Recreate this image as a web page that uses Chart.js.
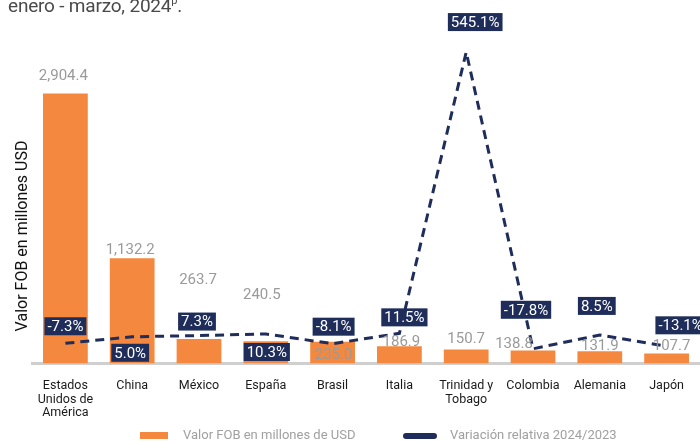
<!DOCTYPE html>
<html>
<head>
<meta charset="utf-8">
<script src="https://cdn.jsdelivr.net/npm/chart.js@4.4.1/dist/chart.umd.min.js"></script>
<style>
  html, body { margin: 0; padding: 0; background: #fff; overflow: hidden; }
  #wrap { position: relative; width: 700px; height: 441px; }
  #title { position: absolute; left: 8px; top: -6px; font: 19px Roboto, sans-serif; color: #4a4a4a; white-space: nowrap; letter-spacing: -0.2px; }
  #title sup { font-size: 11px; vertical-align: 8px; }
</style>
</head>
<body>
<div id="wrap">
  <canvas id="chart" width="700" height="441"></canvas>
  <div id="title">enero - marzo, 2024<sup>p</sup>.</div>
</div>
<script>
// ===== Data =====
const countries = [
  ['Estados', 'Unidos de', 'América'], 'China', 'México', 'España', 'Brasil',
  'Italia', ['Trinidad y', 'Tobago'], 'Colombia', 'Alemania', 'Japón'
];
const fobValues = [2904.4, 1132.2, 263.7, 240.5, 235.0, 186.9, 150.7, 138.8, 131.9, 107.7];
const variation = [-7.3, 5.0, 7.3, 10.3, -8.1, 11.5, 545.1, -17.8, 8.5, -13.1];

const ORANGE = '#F4883E';
const NAVY = '#1F2D5A';

// label nudges (px) to mimic the original layout
const barLabelOffset = [[-2,-17],[-2,-8],[-1,-59],[-4,-46],[1,14],[2,-4],[0,-10],[-19,-6],[0,-5],[5,-7]];
const lineLabelOffset = [[0,-17],[-2,16],[-2,-14],[1,18],[1,-17],[5,-16],[9,-30],[-7,-39],[-3,-29],[14,-21]];

function fmt(v) {
  return v.toLocaleString('en-US', { minimumFractionDigits: 1, maximumFractionDigits: 1 });
}

// ===== Labels plugin =====
const labelsPlugin = {
  id: 'labels',
  afterDatasetsDraw(chart) {
    const ctx = chart.ctx;
    ctx.save();
    // bar values
    const barMeta = chart.getDatasetMeta(0);
    ctx.font = '15px Roboto, sans-serif';
    ctx.fillStyle = '#9a9a9a';
    ctx.textAlign = 'center';
    ctx.textBaseline = 'middle';
    barMeta.data.forEach((bar, i) => {
      const [dx, dy] = barLabelOffset[i];
      ctx.fillText(fmt(fobValues[i]), bar.x + dx, bar.y + dy);
    });
    // variation boxes
    const lineMeta = chart.getDatasetMeta(1);
    ctx.font = '15px Roboto, sans-serif';
    lineMeta.data.forEach((pt, i) => {
      const [dx, dy] = lineLabelOffset[i];
      const txt = variation[i].toFixed(1) + '%';
      const w = ctx.measureText(txt).width + 6;
      const h = 18;
      const cx = pt.x + dx, cy = pt.y + dy;
      ctx.fillStyle = NAVY;
      ctx.fillRect(cx - w / 2, cy - h / 2, w, h);
      ctx.fillStyle = '#ffffff';
      ctx.fillText(txt, cx, cy + 1);
    });
    ctx.restore();
  },
  afterDraw(chart) {
    const ctx = chart.ctx;
    ctx.save();
    // y axis title
    ctx.translate(23, 236);
    ctx.rotate(-Math.PI / 2);
    ctx.font = '16px Roboto, sans-serif';
    ctx.fillStyle = '#111';
    ctx.textAlign = 'center';
    ctx.textBaseline = 'middle';
    ctx.fillText('Valor FOB en millones USD', 0, 0);
    ctx.restore();

    // legend
    ctx.save();
    const ds = chart.data.datasets;
    ctx.font = '13px Roboto, sans-serif';
    ctx.textBaseline = 'middle';
    ctx.fillStyle = ds[0].backgroundColor;
    ctx.fillRect(140, 432, 28, 7);
    ctx.fillStyle = '#a0a0a0';
    ctx.fillText(ds[0].label, 183, 436);
    ctx.strokeStyle = ds[1].borderColor;
    ctx.lineWidth = 6;
    ctx.lineCap = 'round';
    ctx.beginPath();
    ctx.moveTo(406, 436);
    ctx.lineTo(434, 436);
    ctx.stroke();
    ctx.fillText(ds[1].label, 450, 436);
    ctx.restore();
  }
};

// ===== Chart =====
new Chart(document.getElementById('chart'), {
  data: {
    labels: countries,
    datasets: [
      {
        type: 'bar',
        label: 'Valor FOB en millones de USD',
        data: fobValues,
        yAxisID: 'y',
        backgroundColor: ORANGE,
        categoryPercentage: 1,
        barPercentage: 0.67,
        order: 2
      },
      {
        type: 'line',
        label: 'Variación relativa 2024/2023',
        data: variation,
        yAxisID: 'y2',
        borderColor: NAVY,
        borderWidth: 3,
        borderDash: [9, 6],
        pointRadius: 0,
        tension: 0,
        order: 1
      }
    ]
  },
  options: {
    responsive: false,
    animation: false,
    layout: { padding: { left: 32, right: 0, top: 40, bottom: 13 } },
    plugins: { legend: { display: false }, tooltip: { enabled: false } },
    scales: {
      x: {
        grid: { display: false },
        border: { display: true, color: '#cfcfcf', width: 3 },
        ticks: { color: '#1a1a1a', font: { family: 'Roboto', size: 12.5, lineHeight: 1.08 }, padding: 8, maxRotation: 0, autoSkip: false }
      },
      y: { display: false, min: 0, max: 3481 },
      y2: { display: false, min: -45.7, max: 568 }
    }
  },
  plugins: [labelsPlugin]
});
</script>
</body>
</html>
